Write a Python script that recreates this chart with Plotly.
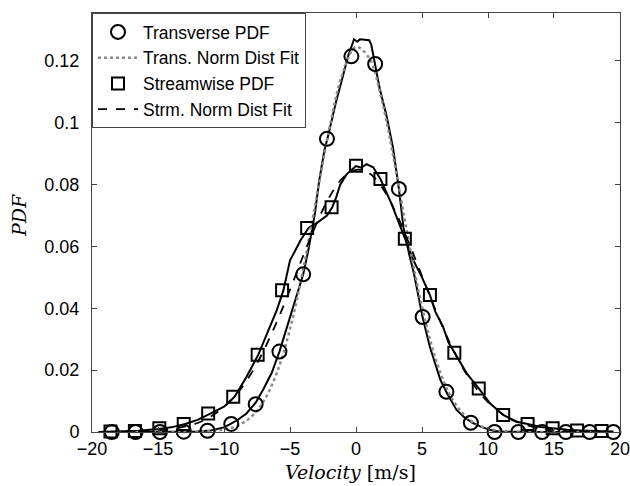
import plotly.graph_objects as go

# ---------------- data ----------------
# Transverse PDF markers
trans_mk_x = [-18.5, -16.7, -14.85, -13.05, -11.25, -9.45, -7.6, -5.8, -4.0, -2.2, -0.35,
              1.45, 3.25, 5.05, 6.85, 8.7, 10.5, 12.3, 14.1, 15.9, 17.7, 19.5]
trans_mk_y = [0.0, 0.0, 0.0, 0.0001, 0.0004, 0.0026, 0.009, 0.026, 0.051, 0.0948, 0.1215,
              0.119, 0.0786, 0.0372, 0.013, 0.003, 0.0, 0.0, 0.0, 0.0, 0.0, 0.0]

# Transverse PDF solid curve
trans_x = [-19.5, -18, -16, -14, -12, -11, -10, -9.5, -9, -8.3, -7.6, -7, -6.4, -5.8, -5.3,
           -4.7, -4.0, -3.6, -3.1, -2.8, -2.4, -2.1, -1.5, -1.0, -0.6, -0.15, 0.1, 0.3, 0.7,
           1.0, 1.15, 1.45, 1.8, 2.3, 2.8, 3.25, 3.6, 4.0, 4.4, 5.05, 5.6, 6.4, 6.9, 7.6, 8.2,
           8.8, 9.4, 10.0, 10.5, 11, 12, 14, 16, 18, 19.5]
trans_y = [0.0, 0.0, 0.0, 0.0001, 0.0002, 0.0005, 0.0015, 0.0026, 0.0038, 0.006, 0.0095,
           0.014, 0.019, 0.026, 0.033, 0.041, 0.051, 0.059, 0.071, 0.081, 0.091, 0.096,
           0.107, 0.115, 0.1215, 0.127, 0.1262, 0.127, 0.1268, 0.1267, 0.1254, 0.119, 0.111,
           0.1025, 0.092, 0.0786, 0.066, 0.058, 0.051, 0.037, 0.0275, 0.0168, 0.0125, 0.0072,
           0.0048, 0.003, 0.0018, 0.0009, 0.0003, 0.0001, 0.0, 0.0, 0.0, 0.0, 0.0]

# Transverse normal-distribution fit (dotted)
tfit_x = [-19, -16, -13, -12, -11, -10, -9, -8, -7, -6, -5, -4, -3, -2, -1, 0, 1, 2, 3, 4,
          5, 6, 7, 8, 9, 10, 11, 12, 13, 16, 19]
tfit_y = [0.0, 0.0, 0.0, 0.0001, 0.0003, 0.0008, 0.002, 0.0047, 0.0099, 0.0191, 0.0333,
          0.0527, 0.0756, 0.0985, 0.1162, 0.1245, 0.1209, 0.1065, 0.085, 0.0616, 0.0405,
          0.0241, 0.013, 0.0064, 0.0028, 0.0011, 0.0004, 0.0001, 0.0, 0.0, 0.0]

# Streamwise PDF markers
strm_mk_x = [-18.6, -16.75, -14.9, -13.05, -11.2, -9.3, -7.45, -5.6, -3.7, -1.85, 0.0,
             1.85, 3.7, 5.6, 7.45, 9.3, 11.15, 13.0, 14.9, 16.75, 18.6]
strm_mk_y = [0.0002, 0.0003, 0.0012, 0.0026, 0.006, 0.0114, 0.025, 0.0458, 0.066, 0.0727,
             0.0861, 0.0818, 0.0625, 0.0443, 0.0256, 0.0141, 0.0055, 0.0026, 0.0012, 0.0005,
             0.0003]

# Streamwise PDF solid curve
strm_x = [-19.5, -18, -16.5, -15, -14, -13, -12, -11, -10, -9.2, -8.3, -7.4, -6.8, -6.0,
          -5.5, -5.0, -4.6, -4.2, -3.6, -2.9, -2.2, -1.8, -1.5, -1.2, -0.7, 0.0, 0.4, 0.8,
          1.3, 1.85, 2.7, 3.7, 4.35, 5.0, 5.6, 6.0, 6.6, 7.0, 7.45, 8.4, 9.3, 10.15, 11.15,
          12.2, 13.0, 14.0, 14.9, 16.0, 17.0, 18.6, 19.5]
strm_y = [0.0, 0.0002, 0.0004, 0.001, 0.0015, 0.0025, 0.0039, 0.006, 0.0082, 0.0114,
          0.0178, 0.025, 0.031, 0.0394, 0.0458, 0.0555, 0.0587, 0.062, 0.066, 0.0678, 0.070,
          0.0727, 0.0759, 0.080, 0.0834, 0.086, 0.0855, 0.0866, 0.0856, 0.0818, 0.0737,
          0.0625, 0.0555, 0.050, 0.0443, 0.039, 0.034, 0.029, 0.0256, 0.0189, 0.0141,
          0.0093, 0.0055, 0.0033, 0.0026, 0.0016, 0.0012, 0.0007, 0.0005, 0.0003, 0.0002]

# Streamwise normal-distribution fit (dashed)
sfit_x = [-19, -17, -16, -15, -14, -13, -12, -11, -10, -9, -8, -7, -6, -5, -4, -3, -2, -1,
          0, 1, 2, 3, 4, 5, 6, 7, 8, 9, 10, 11, 12, 13, 14, 15, 16, 17, 19]
sfit_y = [0.0, 0.0001, 0.0002, 0.0005, 0.0009, 0.0017, 0.0029, 0.005, 0.0081, 0.0125,
          0.0185, 0.0263, 0.0356, 0.046, 0.057, 0.0673, 0.0761, 0.0822, 0.0848, 0.0837,
          0.0789, 0.0711, 0.0612, 0.0504, 0.0397, 0.0298, 0.0214, 0.0147, 0.0097, 0.0061,
          0.0036, 0.0021, 0.0011, 0.0006, 0.0003, 0.0001, 0.0]

x_ticks = [-20, -15, -10, -5, 0, 5, 10, 15, 20]
y_ticks = [0, 0.02, 0.04, 0.06, 0.08, 0.1, 0.12]
y_tick_text = ["0", "0.02", "0.04", "0.06", "0.08", "0.1", "0.12"]

legend_names = ["Transverse PDF", "Trans. Norm Dist Fit", "Streamwise PDF",
                "Strm. Norm Dist Fit"]

# ---------------- figure ----------------
fig = go.Figure()

fig.add_trace(go.Scatter(x=trans_x, y=trans_y, mode="lines",
                         line=dict(color="black", width=2), showlegend=False,
                         cliponaxis=False))
fig.add_trace(go.Scatter(x=strm_x, y=strm_y, mode="lines",
                         line=dict(color="black", width=2), showlegend=False,
                         cliponaxis=False))

fig.add_trace(go.Scatter(x=tfit_x, y=tfit_y, mode="lines", name=legend_names[1],
                         line=dict(color="#8a8a8a", width=2.5, dash="dot", shape="spline"),
                         legendrank=2))
fig.add_trace(go.Scatter(x=sfit_x, y=sfit_y, mode="lines", name=legend_names[3],
                         line=dict(color="black", width=1.8, dash="dash", shape="spline"),
                         legendrank=4))

fig.add_trace(go.Scatter(x=trans_mk_x, y=trans_mk_y, mode="markers", name=legend_names[0],
                         marker=dict(symbol="circle-open", size=14, color="black",
                                     line=dict(width=2, color="black")),
                         cliponaxis=False, legendrank=1))
fig.add_trace(go.Scatter(x=strm_mk_x, y=strm_mk_y, mode="markers", name=legend_names[2],
                         marker=dict(symbol="square-open", size=12, color="black",
                                     line=dict(width=2, color="black")),
                         cliponaxis=False, legendrank=3))

axis_common = dict(showline=True, linecolor="#444", linewidth=1, mirror="ticks",
                   ticks="inside", ticklen=5, tickwidth=1, tickcolor="#444",
                   showgrid=False, zeroline=False, automargin=False,
                   tickfont=dict(family="Liberation Sans, Arial", size=18, color="black"))

fig.update_xaxes(range=[-20, 20.0005], tickvals=x_ticks, ticklabelstandoff=0,
                 ticklabeloverflow="allow", **axis_common)
fig.update_yaxes(range=[0, 0.1355], tickvals=y_ticks, ticktext=y_tick_text,
                 ticklabelstandoff=8, **axis_common)

fig.update_layout(
    width=630, height=486,
    margin=dict(l=92, r=10, t=13, b=54, autoexpand=False),
    paper_bgcolor="white", plot_bgcolor="white",
    showlegend=True,
    legend=dict(x=0, y=1, xanchor="left", yanchor="top",
                bgcolor="white", bordercolor="#444", borderwidth=1,
                font=dict(family="Liberation Sans, Arial", size=17.5, color="black"),
                itemwidth=40, tracegroupgap=0),
    annotations=[
        dict(text="<i>Velocity</i> [m/s]", xref="paper", yref="paper",
             x=(350 - 92) / 528, y=(432 - 472) / 419, xanchor="center", yanchor="middle",
             showarrow=False,
             font=dict(family="DejaVu Serif", size=19, color="black")),
        dict(text="<i>PDF</i>", xref="paper", yref="paper",
             x=(19 - 92) / 528, y=(432 - 216) / 419, xanchor="center", yanchor="middle",
             textangle=-90, showarrow=False,
             font=dict(family="DejaVu Serif", size=19, color="black")),
    ],
)

fig.write_html("out.html")
